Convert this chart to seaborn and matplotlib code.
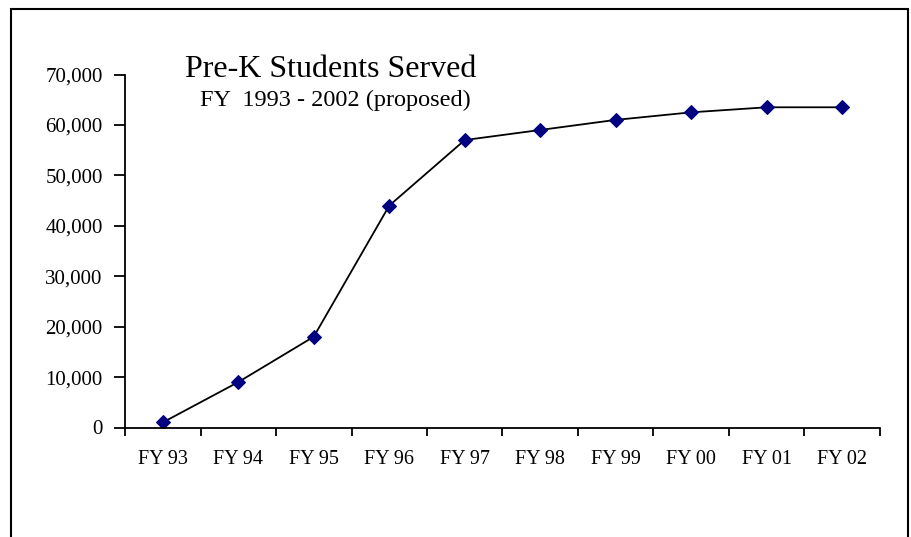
import matplotlib
matplotlib.use("Agg")
import matplotlib.pyplot as plt
import matplotlib.ticker as mticker
from matplotlib.patches import Rectangle
import seaborn as sns
import pandas as pd
import numpy as np

# --- DATA ---
years = ["FY 93", "FY 94", "FY 95", "FY 96", "FY 97",
         "FY 98", "FY 99", "FY 00", "FY 01", "FY 02"]
students = [1000, 9000, 18000, 44000, 57000,
            59000, 61000, 62500, 63500, 63500]

title = "Pre-K Students Served"
subtitle = "FY  1993 - 2002 (proposed)"

# --- STYLE ---
sns.set_theme(style="white")
plt.rcParams["font.family"] = ["Liberation Serif", "DejaVu Serif"]
plt.rcParams["text.color"] = "black"
plt.rcParams["xtick.color"] = "black"
plt.rcParams["ytick.color"] = "black"
plt.rcParams["axes.labelcolor"] = "black"

df = pd.DataFrame({"ano": years, "alunos": students})

fig = plt.figure(figsize=(9.12, 5.37), dpi=100)
ax = fig.add_axes([125 / 912, 1 - 427.5 / 537, (880 - 125) / 912, 353 / 537])

sns.lineplot(data=df, x="ano", y="alunos", ax=ax, color="black", linewidth=1.3,
             marker="D", markersize=7, markerfacecolor="#000080",
             markeredgecolor="#000080", sort=False)

ax.set_ylim(0, 70000)
ax.set_xlim(-0.5, len(years) - 0.5)
ax.yaxis.set_major_locator(mticker.MultipleLocator(10000))
ax.yaxis.set_major_formatter(mticker.FuncFormatter(lambda v, p: f"{int(v):,}"))

# ticks nas divisões entre categorias, rótulos no centro
ax.set_xticks(np.arange(-0.5, len(years)), labels=[""] * (len(years) + 1))
ax.set_xticks(np.arange(len(years)), labels=years, minor=True)
ax.tick_params(axis="x", which="major", direction="out", length=6, width=1.3,
               color="black", bottom=True)
ax.tick_params(axis="x", which="minor", length=0, pad=16, labelsize=14.5)
ax.tick_params(axis="y", direction="out", length=8, width=1.3, color="black",
               left=True, labelsize=15, pad=8)

for side in ["top", "right"]:
    ax.spines[side].set_visible(False)
for side in ["left", "bottom"]:
    ax.spines[side].set_color("black")
    ax.spines[side].set_linewidth(1.3)

ax.set_xlabel("")
ax.set_ylabel("")
ax.grid(False)

fig.text(185 / 912, 1 - 77 / 537, title, fontsize=23, va="baseline", ha="left")
fig.text(200 / 912, 1 - 106 / 537, subtitle, fontsize=17.5, va="baseline", ha="left")

# borda em volta do gráfico (aberta embaixo)
fig.patches.append(Rectangle((11 / 912, -0.05), (908 - 11) / 912, 1.05 - 9 / 537,
                             transform=fig.transFigure, fill=False,
                             edgecolor="black", linewidth=1.5))

plt.savefig("out.png", dpi=100)
